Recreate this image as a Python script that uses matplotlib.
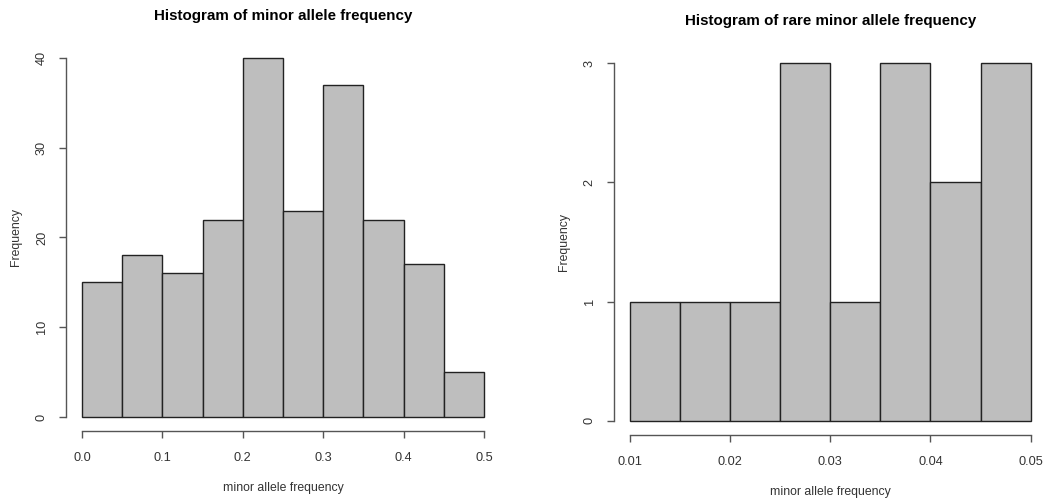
import numpy as np
import matplotlib.pyplot as plt

plt.rcParams['font.family'] = ['Liberation Sans', 'DejaVu Sans']

# Histogram bin edges and counts
maf_edges = [0.0, 0.05, 0.1, 0.15, 0.2, 0.25, 0.3, 0.35, 0.4, 0.45, 0.5]
maf_counts = [15, 18, 16, 22, 40, 23, 37, 22, 17, 5]
maf_xticks = [0.0, 0.1, 0.2, 0.3, 0.4, 0.5]
maf_yticks = [0, 10, 20, 30, 40]

rare_edges = [0.01, 0.015, 0.02, 0.025, 0.03, 0.035, 0.04, 0.045, 0.05]
rare_counts = [1, 1, 1, 3, 1, 3, 2, 3]
rare_xticks = [0.01, 0.02, 0.03, 0.04, 0.05]
rare_yticks = [0, 1, 2, 3]

fill = '#BEBEBE'
axis_col = '#555555'
text_col = '#333333'


def r_hist(ax, edges, counts, xticks, yticks, title, xfmt):
    edges = np.asarray(edges)
    ax.bar(edges[:-1], counts, width=np.diff(edges), align='edge',
           color=fill, edgecolor='#222222', linewidth=1.0)
    # R-style 4% padding on both axes
    xr = edges[-1] - edges[0]
    yr = max(counts)
    ax.set_xlim(edges[0] - 0.04 * xr, edges[-1] + 0.04 * xr)
    ax.set_ylim(-0.04 * yr, yr * 1.04)
    for s in ['top', 'right']:
        ax.spines[s].set_visible(False)
    ax.spines['left'].set_bounds(yticks[0], yticks[-1])
    ax.spines['bottom'].set_bounds(xticks[0], xticks[-1])
    for s in ['left', 'bottom']:
        ax.spines[s].set_color(axis_col)
        ax.spines[s].set_linewidth(1.0)
    ax.set_xticks(xticks)
    ax.set_xticklabels([xfmt.format(v) for v in xticks])
    ax.set_yticks(yticks)
    ax.set_yticklabels([str(v) for v in yticks], rotation=90, va='center')
    ax.tick_params(direction='out', length=5, width=1.0, color=axis_col,
                   labelcolor=text_col, labelsize=9.2)
    ax.tick_params(axis='x', pad=10)
    ax.tick_params(axis='y', pad=8)
    ax.set_title(title, fontsize=10.9, fontweight='bold', pad=17)
    ax.set_xlabel('minor allele frequency', fontsize=8.8, color=text_col, labelpad=13)
    ax.set_ylabel('Frequency', fontsize=8.8, color=text_col, labelpad=10)


fig = plt.figure(figsize=(10.45, 4.99), dpi=100)
ax1 = fig.add_axes([0.0632, 0.1355, 0.4153, 0.7771])
ax2 = fig.add_axes([0.5873, 0.1283, 0.4143, 0.7735])

r_hist(ax1, maf_edges, maf_counts, maf_xticks, maf_yticks,
       'Histogram of minor allele frequency', '{:.1f}')
r_hist(ax2, rare_edges, rare_counts, rare_xticks, rare_yticks,
       'Histogram of rare minor allele frequency', '{:.2f}')

fig.savefig('out.png', dpi=100)
